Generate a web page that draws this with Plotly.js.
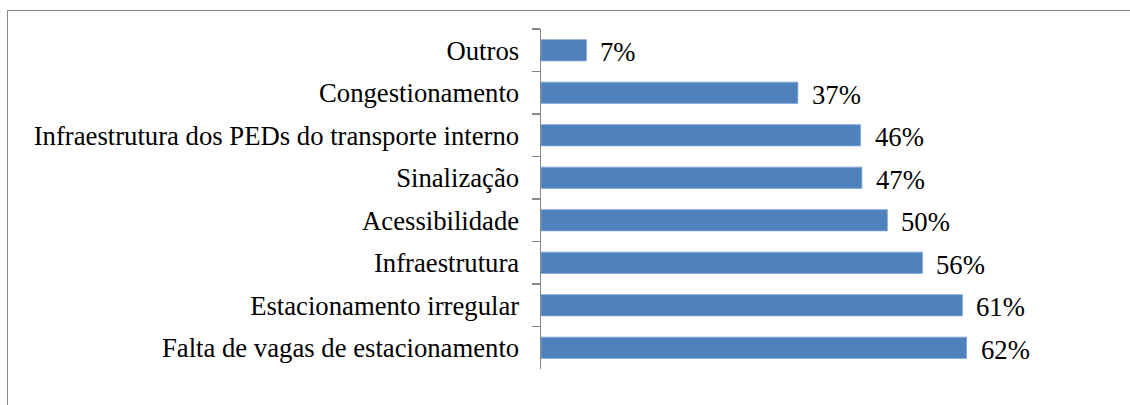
<!DOCTYPE html>
<html>
<head>
<meta charset="utf-8">
<script src="https://cdn.plot.ly/plotly-3.0.1.min.js"></script>
<style>
  html, body { margin: 0; padding: 0; background: #ffffff; overflow: hidden; }
  #frame { position: absolute; left: 7px; top: 10px; width: 1300px; height: 600px;
           border-top: 1.5px solid #898989; border-left: 1.5px solid #898989; }
  #chart { position: absolute; left: 0; top: 0; width: 1130px; height: 405px; }
</style>
</head>
<body>
<div id="frame"></div>
<div id="chart"></div>
<script>
// Categories, top to bottom as shown
const categories = [
  "Outros",
  "Congestionamento",
  "Infraestrutura dos PEDs do transporte interno",
  "Sinalização",
  "Acessibilidade",
  "Infraestrutura",
  "Estacionamento irregular",
  "Falta de vagas de estacionamento"
];
// Bar values (share of respondents)
const values = [0.066, 0.373, 0.464, 0.466, 0.503, 0.554, 0.612, 0.618];
// Data labels as printed on the chart
const labels = ["7%", "37%", "46%", "47%", "50%", "56%", "61%", "62%"];

const serif = "Liberation Serif";

const trace = {
  type: "bar",
  orientation: "h",
  x: values,
  y: categories,
  marker: { color: "#4F81BD", line: { color: "#7FA6D6", width: 0.8 } },
  width: 0.5,
  hoverinfo: "skip"
};

const annotations = values.map((v, i) => ({
  x: v, y: categories[i], xref: "x", yref: "y",
  text: labels[i], showarrow: false, xanchor: "left", yanchor: "middle",
  xshift: 12, yshift: -2,
  font: { family: serif, size: 26.7, color: "#000000" }
}));

const layout = {
  width: 1130, height: 405,
  font: { family: serif, color: "#000000" },
  margin: { l: 540.5, r: 106.5, t: 29.3, b: 36.3, pad: 0 },
  paper_bgcolor: "rgba(0,0,0,0)",
  plot_bgcolor: "rgba(0,0,0,0)",
  showlegend: false,
  bargap: 0.5,
  xaxis: {
    range: [0, 0.70], showgrid: false, zeroline: false, showline: false,
    showticklabels: false, ticks: "", fixedrange: true
  },
  yaxis: {
    type: "category", autorange: "reversed",
    showgrid: false, zeroline: false,
    showline: true, linecolor: "#868686", linewidth: 1.5,
    ticks: "outside", ticklen: 7.5, tickwidth: 1.5, tickcolor: "#868686",
    tickson: "boundaries", ticklabelstandoff: 15,
    tickfont: { family: serif, size: 26.7, color: "#000000" },
    fixedrange: true
  },
  annotations: annotations
};

Plotly.newPlot("chart", [trace], layout, { staticPlot: true, displayModeBar: false });
</script>
</body>
</html>
